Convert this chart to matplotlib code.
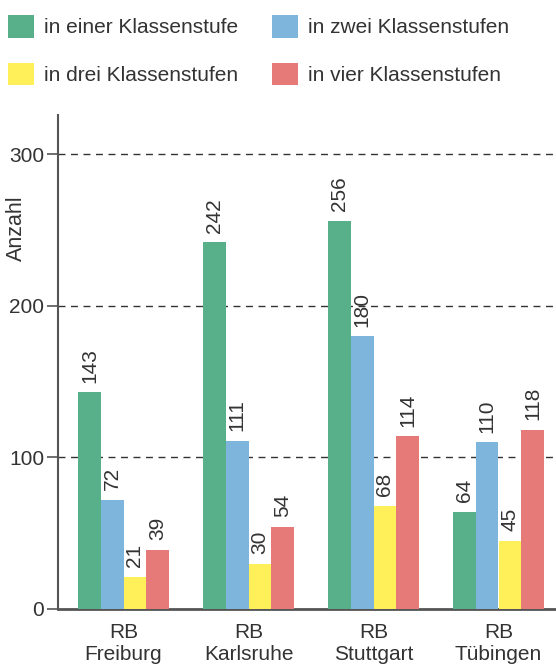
import numpy as np
import matplotlib
matplotlib.use("Agg")
import matplotlib.pyplot as plt
from matplotlib.patches import Patch

# data
regions = ["RB\nFreiburg", "RB\nKarlsruhe", "RB\nStuttgart", "RB\nTübingen"]
series_names = ["in einer Klassenstufe", "in zwei Klassenstufen",
                "in drei Klassenstufen", "in vier Klassenstufen"]
eine = [143, 242, 256, 64]
zwei = [72, 111, 180, 110]
drei = [21, 30, 68, 45]
vier = [39, 54, 114, 118]
yticks = [0, 100, 200, 300]

colors = ["#57b08a", "#7db5dd", "#fff05a", "#e57a78"]
txt = "#333333"

plt.rcParams['font.family'] = ['Liberation Sans', 'DejaVu Sans']
plt.rcParams['font.size'] = 15

fig = plt.figure(figsize=(5.56, 6.64), dpi=100)
ax = fig.add_axes([58/556, 1-609/664, 1-58/556, (609-115)/664])

x = np.arange(len(regions))
w = 0.182
for i, vals in enumerate([eine, zwei, drei, vier]):
    pos = x + (i - 1.5) * w
    bars = ax.bar(pos, vals, width=w, color=colors[i], zorder=3)
    for b, v in zip(bars, vals):
        ax.annotate(str(v), (b.get_x() + b.get_width()/2, v), xytext=(0, 7),
                    textcoords="offset points", rotation=90, ha="center",
                    va="bottom", color=txt, fontsize=15)

ax.set_xlim(-0.524, 3.46)
ax.set_ylim(0, 326)
ax.set_yticks(yticks)
ax.set_yticklabels([str(t) for t in yticks], color=txt, fontsize=15)
for t in yticks[1:]:
    ax.axhline(t, color="#333333", lw=1, ls=(0, (5, 4)), zorder=1)

ax.set_xticks(x)
ax.set_xticklabels(regions, color=txt, fontsize=15, linespacing=1.2)
ax.tick_params(axis="x", length=0, pad=10)
ax.tick_params(axis="y", length=8, width=1.2, color="#555555", pad=2)

for s in ["top", "right"]:
    ax.spines[s].set_visible(False)
ax.spines["left"].set_color("#555555")
ax.spines["left"].set_linewidth(1.5)
ax.spines["bottom"].set_color("#555555")
ax.spines["bottom"].set_linewidth(2)

ax.set_ylabel("Anzahl", color=txt, fontsize=15.5)
ax.yaxis.set_label_coords(-0.062, 0.771)

# column-wise fill -> reorder so rows read eine/zwei, drei/vier
order = [0, 2, 1, 3]
handles = [Patch(facecolor=colors[k], edgecolor="none") for k in order]
labels = [series_names[k] for k in order]
fig.legend(handles, labels, loc="upper left",
           bbox_to_anchor=(8/556, 1-15/664), ncol=2, frameon=False,
           fontsize=15, handlelength=1.25, handleheight=1.3,
           handletextpad=0.5, columnspacing=1.6, labelspacing=1.2,
           borderpad=0, borderaxespad=0, labelcolor=txt)

fig.savefig("out.png", dpi=100)
